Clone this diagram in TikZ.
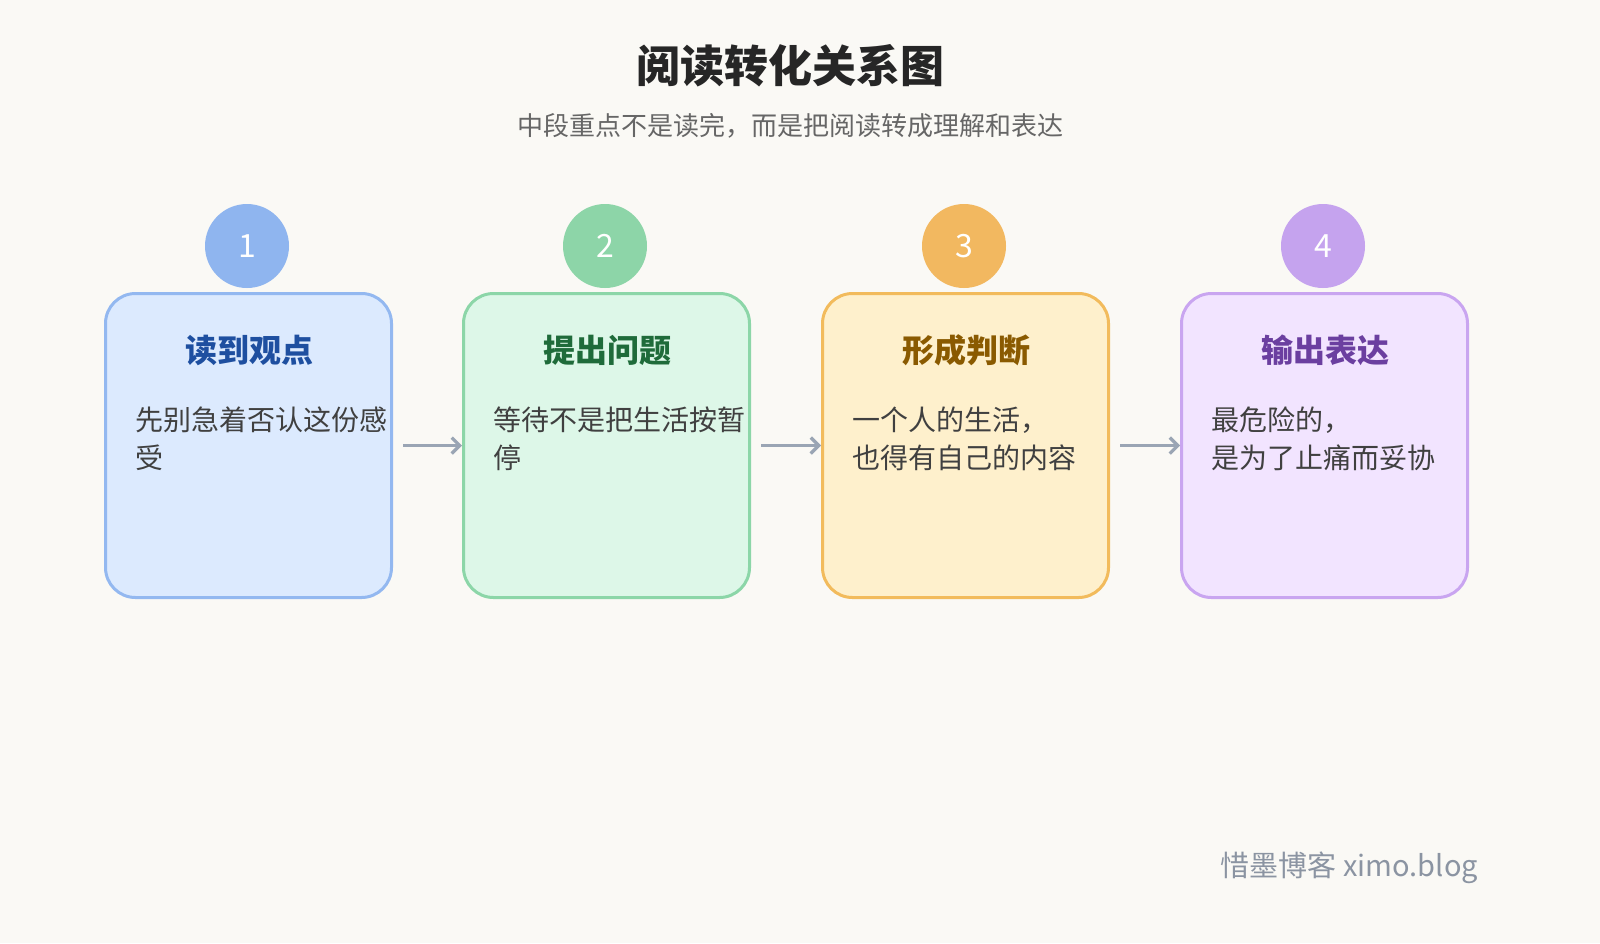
\documentclass[tikz,border=0pt]{standalone}
\usepackage{fontspec}
\newfontfamily\cjk{Noto Sans CJK SC}
\usetikzlibrary{arrows.meta}
\definecolor{bg}{HTML}{FAF9F5}
\definecolor{arr}{HTML}{9AA5B4}
\tikzset{
 card/.style={draw=#1,line width=1.5pt,rounded corners=15pt,minimum width=143pt,minimum height=152pt,anchor=north west},
 num/.style={circle,fill=#1,minimum size=42pt,inner sep=0pt,text=white,font=\cjk\fontsize{16}{16}\selectfont},
 ttl/.style={font=\cjk\bfseries\fontsize{16}{16}\selectfont,text=#1},
 body/.style={font=\cjk\fontsize{14}{19}\selectfont,text=black!75,align=left,anchor=north west},
 flow/.style={draw=arr,line width=1.6pt,-{Straight Barb[length=4pt,width=8pt]}}
}
\begin{document}
\begin{tikzpicture}[x=0.5pt,y=-0.5pt]
\fill[bg] (0,0) rectangle (1600,943);
\node[font=\cjk\bfseries\fontsize{22}{22}\selectfont,text=black!85] (t) at (790,66) {阅读转化关系图};
\node[font=\cjk\fontsize{13}{13}\selectfont,text=black!60] (st) at (790,126) {中段重点不是读完，而是把阅读转成理解和表达};
\foreach \i/\x/\bc/\fc/\cc/\tc/\ttext/\bd in {
 1/104/93B8F0/DCEAFE/8FB5EF/1E4FA0/读到观点/{先别急着否认这份感\\受},
 2/462/8CD6A8/DDF7E8/8DD5A8/1F6B3A/提出问题/{等待不是把生活按暂\\停},
 3/821/F2BB5C/FEF0CC/F2B860/8A5A00/形成判断/{一个人的生活，\\也得有自己的内容},
 4/1180/C9A5F0/F2E4FF/C5A3EE/6B3FA0/输出表达/{最危险的，\\是为了止痛而妥协}}{
 \definecolor{bc}{HTML}{\bc}\definecolor{fc}{HTML}{\fc}\definecolor{cc}{HTML}{\cc}\definecolor{tc}{HTML}{\tc}
 \node[card=bc,fill=fc] (b\i) at (\x,292) {};
 \node[num=cc] (c\i) at (\x+143,246) {\i};
 \node[ttl=tc] (h\i) at (\x+145,350) {\ttext};
 \node[body] (d\i) at (\x+24,400) {\bd};
}
\foreach \a/\b in {1/2,2/3,3/4}{
 \draw[flow] ([xshift=5pt]b\a.east) -- (b\b.west);
}
\node[font=\cjk\fontsize{14.5}{14.5}\selectfont,text=arr!90!black,anchor=east] (w) at (1485,868) {惜墨博客 ximo.blog};
\pgfresetboundingbox
\useasboundingbox (0,0) rectangle (1600,943);
\end{tikzpicture}
\end{document}
